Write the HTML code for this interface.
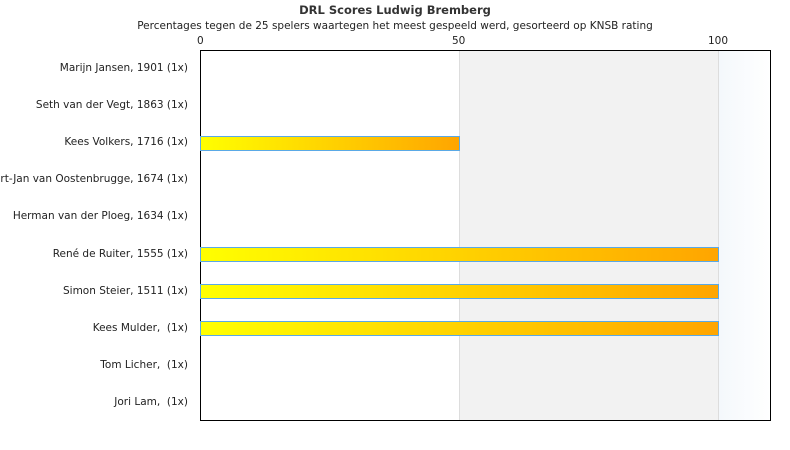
<!DOCTYPE html>
<html><head><meta charset="utf-8"><style>
body{margin:0;width:790px;height:450px;background:#fff;font-family:"DejaVu Sans","Liberation Sans",sans-serif;position:relative;overflow:hidden}
.t{position:absolute;white-space:nowrap;color:#222}
.lbl{position:absolute;right:602px;font-size:10.5px;color:#222;white-space:nowrap;transform:translateY(-50%)}
.bar{position:absolute;left:200px;height:15px;border:1px solid #5aa9e6;box-sizing:border-box;background:linear-gradient(to right,#ffff00,#ffa500)}
</style></head><body>
<div class="t" style="left:0;width:790px;text-align:center;top:3px;font-size:11.5px;font-weight:bold;color:#333">DRL Scores Ludwig Bremberg</div>
<div class="t" style="left:0;width:790px;text-align:center;top:20px;font-size:10.5px">Percentages tegen de 25 spelers waartegen het meest gespeeld werd, gesorteerd op KNSB rating</div>
<div class="t" style="left:197px;top:35px;font-size:10.5px">0</div>
<div class="t" style="left:452px;top:35px;font-size:10.5px">50</div>
<div class="t" style="left:708px;top:35px;font-size:10.5px">100</div>
<div style="position:absolute;left:459px;top:50px;width:259px;height:370px;background:#f2f2f2;border-left:1px solid #ddd"></div>
<div style="position:absolute;left:718px;top:50px;width:52px;height:370px;background:linear-gradient(to right,#f4f8fc,#fff);border-left:1px solid #ddd"></div>
<div style="position:absolute;left:200px;top:50px;width:571px;height:371px;border:1px solid #000;box-sizing:border-box"></div>
<div class="bar" style="top:136px;width:260px"></div>
<div class="bar" style="top:247px;width:519px"></div>
<div class="bar" style="top:284px;width:519px"></div>
<div class="bar" style="top:321px;width:519px"></div>
<div class="lbl" style="top:68px">Marijn Jansen, 1901 (1x)</div>
<div class="lbl" style="top:105px">Seth van der Vegt, 1863 (1x)</div>
<div class="lbl" style="top:142px">Kees Volkers, 1716 (1x)</div>
<div class="lbl" style="top:179px">Bert-Jan van Oostenbrugge, 1674 (1x)</div>
<div class="lbl" style="top:216px">Herman van der Ploeg, 1634 (1x)</div>
<div class="lbl" style="top:254px">René de Ruiter, 1555 (1x)</div>
<div class="lbl" style="top:291px">Simon Steier, 1511 (1x)</div>
<div class="lbl" style="top:328px">Kees Mulder,&nbsp; (1x)</div>
<div class="lbl" style="top:365px">Tom Licher,&nbsp; (1x)</div>
<div class="lbl" style="top:402px">Jori Lam,&nbsp; (1x)</div>
</body></html>
